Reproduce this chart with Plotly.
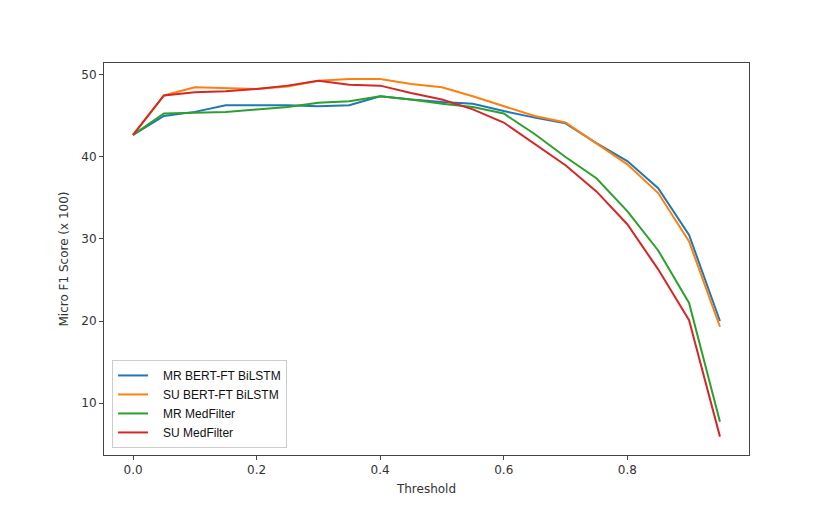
import plotly.graph_objects as go

thresholds = [0.0, 0.05, 0.1, 0.15, 0.2, 0.25, 0.3, 0.35, 0.4, 0.45,
              0.5, 0.55, 0.6, 0.65, 0.7, 0.75, 0.8, 0.85, 0.9, 0.95]

mr_bert = [42.7, 45.0, 45.5, 46.3, 46.3, 46.3, 46.2, 46.3, 47.4, 47.0,
           46.7, 46.5, 45.6, 44.8, 44.1, 41.7, 39.5, 36.2, 30.5, 20.0]
su_bert = [42.7, 47.5, 48.5, 48.4, 48.3, 48.6, 49.3, 49.5, 49.5, 48.9,
           48.5, 47.4, 46.2, 45.0, 44.2, 41.7, 39.1, 35.6, 29.7, 19.3]
mr_med = [42.7, 45.3, 45.4, 45.5, 45.8, 46.1, 46.6, 46.8, 47.4, 47.0,
          46.5, 46.1, 45.3, 42.8, 40.0, 37.4, 33.4, 28.6, 22.2, 7.7]
su_med = [42.7, 47.5, 47.9, 48.0, 48.3, 48.7, 49.3, 48.8, 48.7, 47.8,
          47.0, 45.8, 44.2, 41.6, 39.0, 35.8, 31.8, 26.3, 20.1, 5.9]

series = [
    ("MR BERT-FT BiLSTM", mr_bert, "#1f77b4"),
    ("SU BERT-FT BiLSTM", su_bert, "#ff7f0e"),
    ("MR MedFilter", mr_med, "#2ca02c"),
    ("SU MedFilter", su_med, "#d62728"),
]

fig = go.Figure()
for name, ys, color in series:
    fig.add_trace(go.Scatter(
        x=thresholds, y=ys, name="\u00a0\u00a0\u00a0" + name, mode="lines",
        line=dict(color=color, width=2),
    ))

axis_style = dict(
    showgrid=False, zeroline=False,
    showline=True, linecolor="#444", linewidth=1, mirror=True,
    ticks="outside", ticklen=4, tickcolor="#444",
    tickfont=dict(family="DejaVu Sans", size=12, color="#333"),
)

# page body has an 8px margin, so the figure is a bit smaller than the window
fig.update_layout(
    width=816, height=504,
    margin=dict(l=96, r=75, t=55, b=57),
    plot_bgcolor="white", paper_bgcolor="white",
    font=dict(family="DejaVu Sans", color="#333"),
    xaxis=dict(
        range=[-0.047, 0.997], tickvals=[0.0, 0.2, 0.4, 0.6, 0.8],
        ticktext=["0.0", "0.2", "0.4", "0.6", "0.8"],
        title=dict(text="Threshold", font=dict(size=12), standoff=8),
        **axis_style,
    ),
    yaxis=dict(
        range=[3.66, 51.46], tickvals=[10, 20, 30, 40, 50],
        title=dict(text="Micro F1 Score (x 100)", font=dict(size=12), standoff=10),
        **axis_style,
    ),
    legend=dict(
        x=0.0125, y=0.018, xanchor="left", yanchor="bottom",
        bgcolor="rgba(255,255,255,0.8)", bordercolor="#ccc", borderwidth=1,
        font=dict(family="Liberation Sans", size=12, color="#111"),
        tracegroupgap=5,
    ),
    showlegend=True,
)

fig.write_html("out.html")
